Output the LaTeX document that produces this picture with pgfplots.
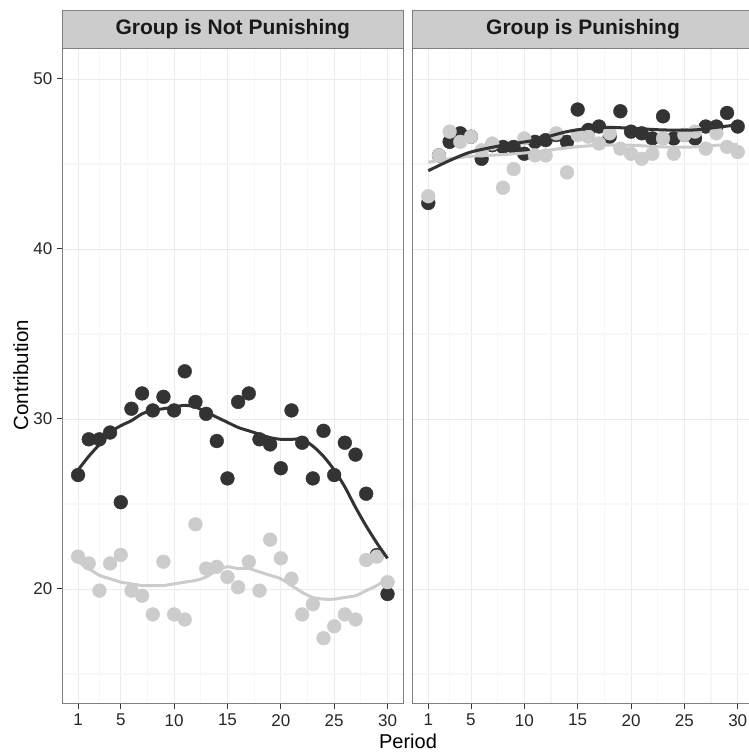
\documentclass[border=0pt]{standalone}
\usepackage{fontspec}
\setmainfont{Liberation Sans}
\usepackage{pgfplots}
\pgfplotsset{compat=1.18}
\definecolor{darkpt}{HTML}{333333}
\definecolor{lightpt}{HTML}{CCCCCC}
\definecolor{gmaj}{HTML}{EBEBEB}
\definecolor{gmin}{HTML}{F7F7F7}
\definecolor{bordr}{HTML}{7F7F7F}
\definecolor{stripc}{HTML}{CCCCCC}

\pgfplotstableread{
x dnp lnp dp lp
1 26.7 21.9 42.7 43.1
2 28.8 21.5 45.5 45.5
3 28.8 19.9 46.3 46.9
4 29.2 21.5 46.8 46.3
5 25.1 22.0 46.6 46.6
6 30.6 19.9 45.3 45.8
7 31.5 19.6 46.1 46.2
8 30.5 18.5 46.0 43.6
9 31.3 21.6 46.0 44.7
10 30.5 18.5 45.6 46.5
11 32.8 18.2 46.3 45.5
12 31.0 23.8 46.4 45.5
13 30.3 21.2 46.7 46.8
14 28.7 21.3 46.3 44.5
15 26.5 20.7 48.2 46.7
16 31.0 20.1 47.0 46.6
17 31.5 21.6 47.2 46.2
18 28.8 19.9 46.6 46.8
19 28.5 22.9 48.1 45.9
20 27.1 21.8 46.9 45.6
21 30.5 20.6 46.8 45.3
22 28.6 18.5 46.5 45.6
23 26.5 19.1 47.8 46.5
24 29.3 17.1 46.5 45.6
25 26.7 17.8 46.7 46.7
26 28.6 18.5 46.5 46.9
27 27.9 18.2 47.2 45.9
28 25.6 21.7 47.2 46.8
29 22.0 21.9 48.0 46.0
30 19.7 20.4 47.2 45.7
}\pts

\pgfplotstableread{
x dnp lnp
1 27.0 21.6
2 27.8 21.2
3 28.5 20.8
4 29.2 20.6
5 29.6 20.4
6 29.9 20.3
7 30.3 20.2
8 30.5 20.2
9 30.6 20.2
10 30.7 20.3
11 30.8 20.4
12 30.7 20.5
13 30.4 20.7
14 30.1 21.1
15 29.8 21.3
16 29.5 21.2
17 29.3 21.2
18 29.1 21.0
19 28.9 20.8
20 28.8 20.6
21 28.8 20.2
22 28.8 19.8
23 28.4 19.5
24 27.8 19.4
25 27.0 19.4
26 26.0 19.5
27 24.8 19.6
28 23.7 19.9
29 22.7 20.2
30 21.8 20.6
}\smNP

\pgfplotstableread{
x dp lp
1 44.6 45.1
3 45.2 45.3
5 45.7 45.45
8 46.1 45.55
11 46.4 45.7
14 46.9 45.95
17 47.15 46.1
20 47.1 46.1
23 47.0 46.0
26 47.0 46.0
28 47.15 46.1
30 47.3 46.15
}\smP

\pgfplotsset{facet/.style={
  scale only axis, width=340.4pt, height=655pt,
  xmin=-0.45, xmax=31.45, ymin=13.29, ymax=51.82,
  xtick={1,5,10,15,20,25,30}, minor xtick={3,7.5,12.5,17.5,22.5,27.5},
  ytick={20,30,40,50}, minor ytick={15,25,35,45},
  grid=both,
  major grid style={draw=gmaj, line width=0.7pt},
  minor grid style={draw=gmin, line width=1.2pt},
  axis line style={draw=bordr, line width=0.9pt},
  tick align=outside, major tick length=6pt, minor tick length=0pt,
  major tick style={draw=black!80, line width=0.9pt},
  xtick pos=left, ytick pos=left,
  ticklabel style={font=\fontsize{17}{17}\selectfont, text=black!85},
  xticklabel style={inner sep=0pt, yshift=-5pt},
  yticklabel style={inner sep=0pt, xshift=-4pt},
  /pgf/number format/assume math mode=true,
  clip mode=individual,
}}

\begin{document}
\begin{tikzpicture}
\useasboundingbox (0,0) rectangle (749pt,752pt);
\begin{axis}[facet, name=L, at={(62.6pt,49pt)}, anchor=south west]
\addplot[only marks, mark=*, mark size=6.9pt, darkpt, mark options={draw=darkpt, fill=darkpt}] table[x=x, y=dnp] {\pts};
\addplot[only marks, mark=*, mark size=6.9pt, lightpt, mark options={draw=lightpt, fill=lightpt}] table[x=x, y=lnp] {\pts};
\addplot[lightpt, line width=3pt, smooth, no marks] table[x=x, y=lnp] {\smNP};
\addplot[darkpt, line width=3pt, smooth, no marks] table[x=x, y=dnp] {\smNP};
\end{axis}
\begin{axis}[facet, name=R, at={(412.8pt,49pt)}, anchor=south west, yticklabels={}, ytick style={draw=none}]
\addplot[only marks, mark=*, mark size=6.9pt, darkpt, mark options={draw=darkpt, fill=darkpt}] table[x=x, y=dp] {\pts};
\addplot[only marks, mark=*, mark size=6.9pt, lightpt, mark options={draw=lightpt, fill=lightpt}] table[x=x, y=lp] {\pts};
\addplot[lightpt, line width=3pt, smooth, no marks] table[x=x, y=lp] {\smP};
\addplot[darkpt, line width=3pt, smooth, no marks] table[x=x, y=dp] {\smP};
\end{axis}
\foreach \ax/\lab in {L/Group is Not Punishing, R/Group is Punishing}{
  \draw[fill=stripc, draw=bordr, line width=0.9pt] (\ax.north west) rectangle ([yshift=38pt]\ax.north east);
  \node[font=\bfseries\fontsize{21}{21}\selectfont, text=black!90, anchor=base] at ([yshift=13pt]\ax.north) {\lab};
}
\node[font=\fontsize{20}{20}\selectfont, anchor=base] at (408pt,4pt) {Period};
\node[font=\fontsize{20.5}{20.5}\selectfont, anchor=base, rotate=90] at (28pt,377pt) {Contribution};
\end{tikzpicture}
\end{document}
